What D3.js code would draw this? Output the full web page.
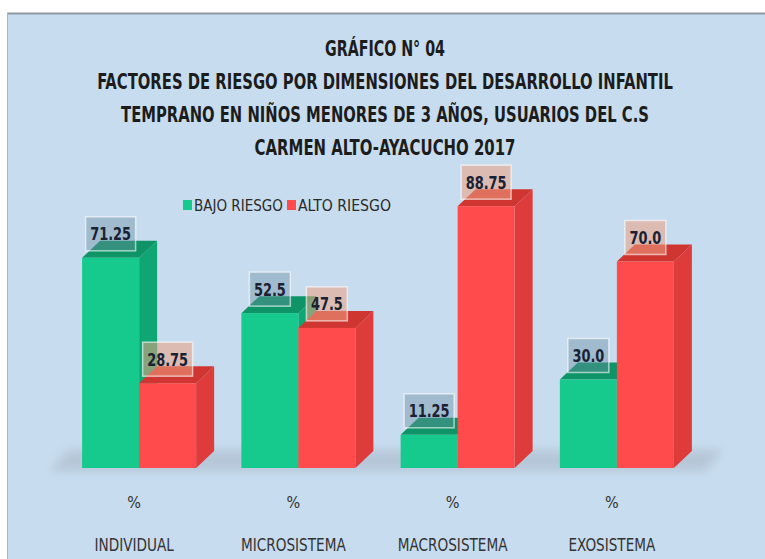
<!DOCTYPE html>
<html>
<head>
<meta charset="utf-8">
<script src="https://cdn.jsdelivr.net/npm/d3@7"></script>
<style>
  body { margin: 0; background: #fff; }
  text { font-family: "DejaVu Sans Condensed", "Liberation Sans Narrow", sans-serif; }
</style>
</head>
<body>
<div id="chart"></div>
<script>
// data
var categories = ["INDIVIDUAL", "MICROSISTEMA", "MACROSISTEMA", "EXOSISTEMA"];
var series = ["BAJO RIESGO", "ALTO RIESGO"];
var bajo = [71.25, 52.5, 11.25, 30.0];
var alto = [28.75, 47.5, 88.75, 70.0];
var valueText = [["71.25", "52.5", "11.25", "30.0"], ["28.75", "47.5", "88.75", "70.0"]];
var titleLines = [
  "GRÁFICO N° 04",
  "FACTORES DE RIESGO POR DIMENSIONES DEL DESARROLLO INFANTIL",
  "TEMPRANO EN NIÑOS MENORES DE 3 AÑOS, USUARIOS DEL C.S",
  "CARMEN ALTO-AYACUCHO 2017"
];
var titleWidths = [120, 576, 528, 261];

var width = 765, height = 559;
var base = 468, depthX = 18, depthY = 17;

// colours: front, side, top
var colors = [
  { front: "#16c98c", side: "#0fa673", top: "#0e9466", label: "rgba(105,140,160,0.42)" },
  { front: "#ff4b4b", side: "#de3b3b", top: "#cf3631", label: "rgba(235,160,130,0.55)" }
];

// squeeze a text horizontally so it is w pixels wide (font is wider than the original Calibri)
function squeeze(sel, w, cx, cy) {
  sel.each(function(d, i) {
    var tw = typeof w === "function" ? w(d, i) : w;
    var len = this.getComputedTextLength();
    var sx = tw / len;
    var px = typeof cx === "function" ? cx(d, i) : cx;
    var py = typeof cy === "function" ? cy(d, i) : cy;
    d3.select(this).attr("transform", "translate(" + px + "," + py + ") scale(" + sx + ",1)");
  });
}

var svg = d3.select("#chart").append("svg")
    .attr("width", width)
    .attr("height", height);

var defs = svg.append("defs");
defs.append("filter").attr("id", "blur")
  .attr("x", "-20%").attr("y", "-100%").attr("width", "140%").attr("height", "300%")
  .append("feGaussianBlur").attr("stdDeviation", 5);

// panel
svg.append("rect")
  .attr("x", 7).attr("y", 13)
  .attr("width", width - 7).attr("height", height - 13)
  .attr("fill", "#c7dcee");
svg.append("line")
  .attr("x1", 7).attr("x2", width).attr("y1", 13.5).attr("y2", 13.5)
  .attr("stroke", "#8c97a3").attr("stroke-width", 2);
svg.append("line")
  .attr("x1", 7.5).attr("x2", 7.5).attr("y1", 13).attr("y2", height)
  .attr("stroke", "#a9b4c2").attr("stroke-width", 1);

// title
svg.selectAll(".title")
  .data(titleLines)
  .enter()
  .append("text")
  .attr("class", "title")
  .attr("text-anchor", "middle")
  .attr("font-size", 21)
  .attr("font-weight", "bold")
  .attr("fill", "#1c1c1c")
  .text(function(d) { return d; })
  .call(squeeze, function(d, i) { return titleWidths[i]; }, 385, function(d, i) { return 56 + i * 33; });

// scales
var x0 = d3.scaleBand()
    .domain(categories)
    .range([59.5, 696.5])
    .padding(0);

var barW = 57;
var x1 = d3.scaleBand()
    .domain(series)
    .range([0, barW * 2]);

var y = d3.scaleLinear()
    .domain([0, 100])
    .range([base, base - 295]);

// floor shadow
svg.append("polygon")
  .attr("points", [[50, base + 3], [705, base + 3], [723, base - 18], [68, base - 18]].join(" "))
  .attr("fill", "#8f96a6")
  .attr("opacity", 0.3)
  .attr("filter", "url(#blur)");

var rows = [];
categories.forEach(function(c, i) {
  rows.push({ cat: c, s: 0, value: bajo[i], label: valueText[0][i] });
  rows.push({ cat: c, s: 1, value: alto[i], label: valueText[1][i] });
});

function barX(d) {
  return x0(d.cat) + x0.bandwidth() / 2 - barW + x1(series[d.s]);
}

var bars = svg.append("g").selectAll("g")
  .data(rows)
  .enter()
  .append("g");

// side face
bars.append("polygon")
  .attr("points", function(d) {
    var xr = barX(d) + x1.bandwidth(), yt = y(d.value);
    return [[xr, yt], [xr + depthX, yt - depthY], [xr + depthX, base - depthY], [xr, base]].join(" ");
  })
  .attr("fill", function(d) { return colors[d.s].side; });

// top face
bars.append("polygon")
  .attr("points", function(d) {
    var xl = barX(d), xr = xl + x1.bandwidth(), yt = y(d.value);
    return [[xl, yt], [xl + depthX, yt - depthY], [xr + depthX, yt - depthY], [xr, yt]].join(" ");
  })
  .attr("fill", function(d) { return colors[d.s].top; });

// front face
bars.append("rect")
  .attr("x", barX)
  .attr("y", function(d) { return y(d.value); })
  .attr("width", x1.bandwidth())
  .attr("height", function(d) { return base - y(d.value); })
  .attr("fill", function(d) { return colors[d.s].front; });

// value labels
var labels = svg.append("g").selectAll("g")
  .data(rows)
  .enter()
  .append("g")
  .attr("transform", function(d) {
    return "translate(" + (barX(d) + x1.bandwidth() / 2) + "," + (y(d.value) - 24) + ")";
  });

var boxes = labels.append("rect")
  .attr("y", -17)
  .attr("height", 34)
  .attr("fill", function(d) { return colors[d.s].label; })
  .attr("stroke", "rgba(255,255,255,0.6)")
  .attr("stroke-width", 1.5);

labels.append("text")
  .attr("text-anchor", "middle")
  .attr("dy", "0.36em")
  .attr("font-size", 18)
  .attr("font-weight", "bold")
  .attr("fill", "#1a2133")
  .attr("transform", "scale(0.8,1)")
  .text(function(d) { return d.label; })
  .each(function(d) { d.tw = this.getComputedTextLength() * 0.8; });

boxes
  .attr("x", function(d) { return -(d.tw + 9) / 2; })
  .attr("width", function(d) { return d.tw + 9; });

// category axis: "%" and names (centred a little left of the bar pair)
var axis = svg.append("g").selectAll("g")
  .data(categories)
  .enter()
  .append("g")
  .attr("transform", function(d) { return "translate(" + (x0(d) + x0.bandwidth() / 2 - 5) + ",0)"; });

axis.append("text")
  .attr("y", 508)
  .attr("text-anchor", "middle")
  .attr("font-size", 16)
  .attr("fill", "#333")
  .text("%");

axis.append("text")
  .attr("text-anchor", "middle")
  .attr("font-size", 17)
  .attr("fill", "#333")
  .attr("transform", "translate(0,551) scale(0.89,1)")
  .text(function(d) { return d; });

// legend
var legend = svg.append("g").selectAll("g")
  .data(series)
  .enter()
  .append("g")
  .attr("transform", function(d, i) { return "translate(" + (183 + i * 104) + ",200)"; });

legend.append("rect")
  .attr("width", 9).attr("height", 10)
  .attr("fill", function(d, i) { return colors[i].front; });

legend.append("text")
  .attr("font-size", 16)
  .attr("fill", "#2a2a2a")
  .text(function(d) { return d; })
  .call(squeeze, function(d, i) { return i ? 93 : 89; }, 11, 11);
</script>
</body>
</html>
